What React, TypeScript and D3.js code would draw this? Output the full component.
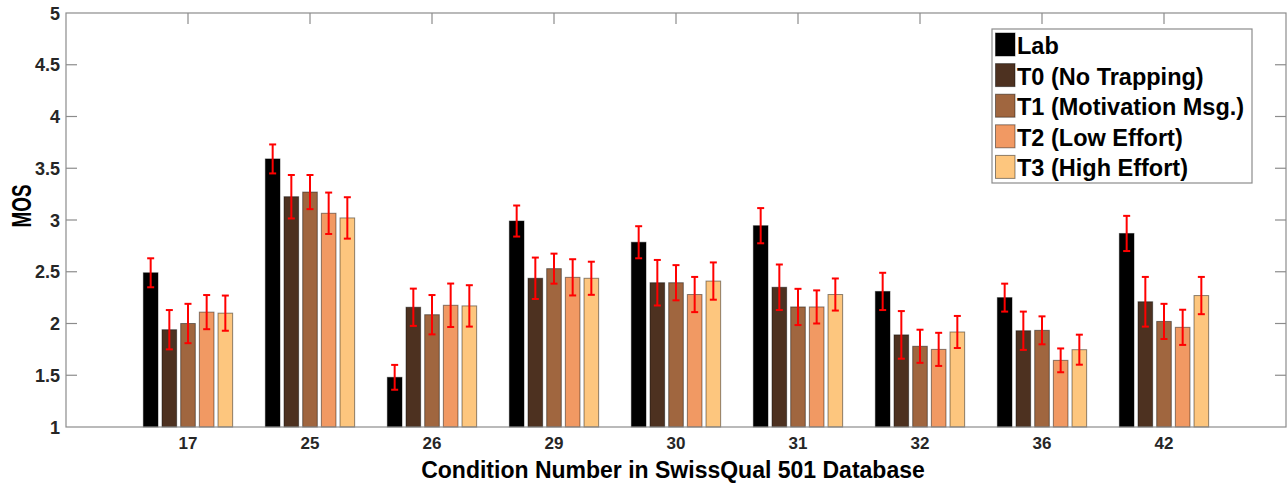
import * as d3 from "d3";
import React, { useEffect, useRef } from "react";

const conditions = ["17", "25", "26", "29", "30", "31", "32", "36", "42"];
const seriesNames = [
  "Lab",
  "T0 (No Trapping)",
  "T1 (Motivation Msg.)",
  "T2 (Low Effort)",
  "T3 (High Effort)",
];
const colors = ["#000000", "#4d3120", "#a0663f", "#f19963", "#fdc67e"];

const labMos = [2.49, 3.59, 1.48, 2.99, 2.785, 2.945, 2.31, 2.25, 2.87];
const t0Mos = [1.94, 3.225, 2.157, 2.437, 2.394, 2.35, 1.89, 1.93, 2.21];
const t1Mos = [2.0, 3.27, 2.085, 2.53, 2.394, 2.16, 1.78, 1.934, 2.02];
const t2Mos = [2.11, 3.065, 2.176, 2.446, 2.28, 2.16, 1.75, 1.644, 1.963];
const t3Mos = [2.1, 3.02, 2.17, 2.437, 2.41, 2.28, 1.918, 1.747, 2.27];

const labErr = [0.14, 0.14, 0.12, 0.15, 0.155, 0.17, 0.18, 0.135, 0.17];
const t0Err = [0.19, 0.21, 0.18, 0.2, 0.22, 0.22, 0.23, 0.185, 0.24];
const t1Err = [0.19, 0.165, 0.19, 0.145, 0.17, 0.175, 0.16, 0.135, 0.17];
const t2Err = [0.165, 0.2, 0.21, 0.175, 0.17, 0.16, 0.16, 0.115, 0.17];
const t3Err = [0.17, 0.2, 0.2, 0.16, 0.18, 0.155, 0.155, 0.145, 0.18];

const yTicks = [1, 1.5, 2, 2.5, 3, 3.5, 4, 4.5, 5];

const means = [labMos, t0Mos, t1Mos, t2Mos, t3Mos];
const errs = [labErr, t0Err, t1Err, t2Err, t3Err];

const W = 1288;
const H = 483;
const margin = { left: 66, right: 2, top: 13, bottom: 56 };

const App = () => {
  const svgRef = useRef<SVGSVGElement | null>(null);

  useEffect(() => {
    if (!svgRef.current) return;
    const svg = d3.select(svgRef.current);
    svg.selectAll("*").remove();

    const x0 = margin.left;
    const x1 = W - margin.right;
    const y0 = H - margin.bottom;
    const y1 = margin.top;

    const x = d3.scaleLinear().domain([0, conditions.length + 1]).range([x0, x1]);
    const y = d3.scaleLinear().domain([1, 5]).range([y0, y1]);

    const step = 0.153;
    const barW = 0.12;
    const axisColor = "#8c8c8c";
    const font = "'Liberation Sans', Arial, sans-serif";

    // bars
    const g = svg.append("g");
    means.forEach((vals, s) => {
      g.selectAll(`rect.s${s}`)
        .data(vals)
        .enter()
        .append("rect")
        .attr("x", (_d, i) => x(i + 1 + (s - 2) * step - barW / 2))
        .attr("y", (d) => y(d))
        .attr("width", x(barW) - x(0))
        .attr("height", (d) => y0 - y(d))
        .attr("fill", colors[s])
        .attr("stroke", "#000")
        .attr("stroke-opacity", 0.45)
        .attr("stroke-width", 1);
    });

    // error bars
    const eg = svg.append("g").attr("stroke", "#ff0000").attr("stroke-width", 2);
    means.forEach((vals, s) => {
      vals.forEach((v, i) => {
        const cx = x(i + 1 + (s - 2) * step);
        const e = errs[s][i];
        eg.append("line").attr("x1", cx).attr("x2", cx).attr("y1", y(v + e)).attr("y2", y(v - e));
        eg.append("line").attr("x1", cx - 3.5).attr("x2", cx + 3.5).attr("y1", y(v + e)).attr("y2", y(v + e));
        eg.append("line").attr("x1", cx - 3.5).attr("x2", cx + 3.5).attr("y1", y(v - e)).attr("y2", y(v - e));
      });
    });

    // box and ticks
    const ax = svg.append("g").attr("stroke", axisColor).attr("stroke-width", 1.2).attr("fill", "none");
    ax.append("rect").attr("x", x0).attr("y", y1).attr("width", x1 - x0).attr("height", y0 - y1);
    yTicks.slice(1, -1).forEach((t) => {
      ax.append("line").attr("x1", x0).attr("x2", x0 + 11).attr("y1", y(t)).attr("y2", y(t));
      ax.append("line").attr("x1", x1).attr("x2", x1 - 11).attr("y1", y(t)).attr("y2", y(t));
    });
    conditions.forEach((_c, i) => {
      ax.append("line").attr("x1", x(i + 1)).attr("x2", x(i + 1)).attr("y1", y1).attr("y2", y1 + 11);
    });

    // tick labels
    svg
      .append("g")
      .selectAll("text")
      .data(yTicks)
      .enter()
      .append("text")
      .attr("x", x0 - 6)
      .attr("y", (d) => y(d) + 6.5)
      .attr("text-anchor", "end")
      .attr("font-family", font)
      .attr("font-weight", "bold")
      .attr("font-size", 18)
      .attr("fill", "#262626")
      .text((d) => String(d));

    svg
      .append("g")
      .selectAll("text")
      .data(conditions)
      .enter()
      .append("text")
      .attr("x", (_d, i) => x(i + 1))
      .attr("y", y0 + 22)
      .attr("text-anchor", "middle")
      .attr("font-family", font)
      .attr("font-weight", "bold")
      .attr("font-size", 17)
      .attr("fill", "#262626")
      .text((d) => d);

    // axis labels
    svg
      .append("text")
      .attr("x", 673)
      .attr("y", y0 + 51)
      .attr("text-anchor", "middle")
      .attr("font-family", font)
      .attr("font-weight", "bold")
      .attr("font-size", 23)
      .attr("fill", "#000")
      .text("Condition Number in SwissQual 501 Database");

    svg
      .append("text")
      .attr("transform", `translate(31,206) rotate(-90)`)
      .attr("text-anchor", "middle")
      .attr("font-family", font)
      .attr("font-weight", "bold")
      .attr("font-size", 28)
      .attr("textLength", 43)
      .attr("lengthAdjust", "spacingAndGlyphs")
      .attr("fill", "#000")
      .text("MOS");

    // legend
    const lg = svg.append("g");
    lg.append("rect")
      .attr("x", 992)
      .attr("y", 29)
      .attr("width", 260)
      .attr("height", 154)
      .attr("fill", "#fff")
      .attr("stroke", axisColor)
      .attr("stroke-width", 1.2);
    seriesNames.forEach((name, s) => {
      const top = 33 + s * 30.6;
      lg.append("rect")
        .attr("x", 995.5)
        .attr("y", top)
        .attr("width", 19.5)
        .attr("height", 23)
        .attr("fill", colors[s])
        .attr("stroke", "#000")
        .attr("stroke-opacity", 0.45);
      lg.append("text")
        .attr("x", 1017)
        .attr("y", top + 21)
        .attr("font-family", font)
        .attr("font-weight", "bold")
        .attr("font-size", 23.5)
        .attr("fill", "#000")
        .text(name);
    });
  }, []);

  return (
    <svg
      ref={svgRef}
      width={W}
      height={H}
      style={{ position: "absolute", left: 0, top: 0, background: "#fff" }}
    />
  );
};

export default App;
